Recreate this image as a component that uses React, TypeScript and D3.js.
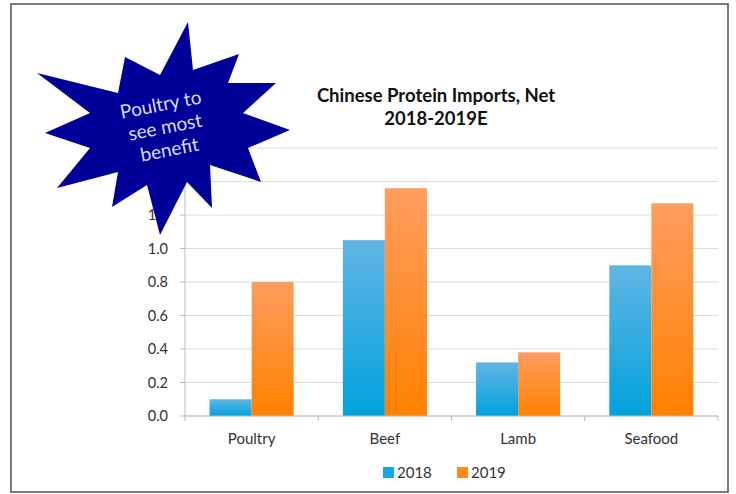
import React from "react";
import * as d3 from "d3";

// Chart data
const categories = ["Poultry", "Beef", "Lamb", "Seafood"];
const seriesNames = ["2018", "2019"];
const values2018 = [0.1, 1.05, 0.32, 0.9];
const values2019 = [0.8, 1.36, 0.38, 1.27];
const yTicks = [0, 0.2, 0.4, 0.6, 0.8, 1.0, 1.2, 1.4, 1.6];
const titleLines = ["Chinese Protein Imports, Net", "2018-2019E"];
const calloutLines = ["Poultry to", "see most", "benefit"];

// Callout burst outline (outer and inner vertices, clockwise from the top)
const burstPoints: [number, number][] = [
  [188, 22], [193, 70], [239, 54], [228, 83], [276, 83], [243, 113],
  [290, 130], [248, 148], [261, 182], [210, 165], [212, 208], [187, 182],
  [160, 235], [147, 185], [112, 207], [118, 172], [57, 188], [90, 148],
  [45, 133], [90, 113], [37, 73], [118, 93], [125, 57], [160, 75],
];

const W = 736;
const H = 494;
const FONT = "Lato, 'Open Sans', 'DejaVu Sans', sans-serif";

export default function App() {
  const plot = { left: 185, right: 718, top: 148, bottom: 416 };

  const y = d3.scaleLinear().domain([0, 1.6]).range([plot.bottom, plot.top]);
  const x = d3
    .scaleBand<string>()
    .domain(categories)
    .range([plot.left, plot.right])
    .padding(0);
  const xs = d3
    .scaleBand<string>()
    .domain(seriesNames)
    .range([0, x.step()])
    .paddingInner(0)
    .paddingOuter(0.585);

  const seriesValues = [values2018, values2019];
  const fills = ["url(#gBlue)", "url(#gOrange)"];
  const legendColors = ["#1aa6de", "#ff8a1c"];

  const boundaries = [...categories.map((c) => x(c)!), plot.right];
  const line = d3.line();

  return (
    <svg
      width={W}
      height={H}
      style={{ position: "absolute", left: 0, top: 0, background: "#fff" }}
      fontFamily={FONT}
    >
      <defs>
        <linearGradient id="gBlue" x1="0" y1="0" x2="0" y2="1">
          <stop offset="0" stopColor="#62b5e5" />
          <stop offset="1" stopColor="#00a2dc" />
        </linearGradient>
        <linearGradient id="gOrange" x1="0" y1="0" x2="0" y2="1">
          <stop offset="0" stopColor="#ff9d60" />
          <stop offset="1" stopColor="#ff8100" />
        </linearGradient>
      </defs>

      {/* outer frame */}
      <rect x={11} y={4} width={717} height={488} fill="#fff" stroke="#5a5a5a" strokeWidth={1.6} />

      {/* gridlines */}
      {yTicks.map((t) => (
        <line
          key={"g" + t}
          x1={plot.left}
          x2={plot.right}
          y1={y(t)}
          y2={y(t)}
          stroke="#dcdcdc"
          strokeWidth={1.2}
        />
      ))}

      {/* y axis */}
      <line x1={plot.left} x2={plot.left} y1={plot.top} y2={plot.bottom} stroke="#bdbdbd" strokeWidth={1} />
      {yTicks.map((t) => (
        <g key={"yt" + t}>
          <line x1={plot.left - 5} x2={plot.left} y1={y(t)} y2={y(t)} stroke="#bdbdbd" />
          <text
            x={168}
            y={y(t)}
            dy="0.35em"
            textAnchor="end"
            fontSize={14.5}
            fill="#333"
          >
            {d3.format(".1f")(t)}
          </text>
        </g>
      ))}

      {/* bars */}
      {categories.map((c, i) => (
        <g key={c} transform={`translate(${x(c)},0)`}>
          {seriesNames.map((s, j) => (
            <rect
              key={s}
              x={xs(s)}
              y={y(seriesValues[j][i])}
              width={xs.bandwidth()}
              height={y(0) - y(seriesValues[j][i])}
              fill={fills[j]}
            />
          ))}
        </g>
      ))}

      {/* x axis */}
      <line x1={plot.left} x2={plot.right} y1={plot.bottom} y2={plot.bottom} stroke="#bdbdbd" />
      {boundaries.map((b, i) => (
        <line key={"xt" + i} x1={b} x2={b} y1={plot.bottom} y2={plot.bottom + 5} stroke="#bdbdbd" />
      ))}
      {categories.map((c) => (
        <text
          key={"xl" + c}
          x={x(c)! + x.bandwidth() / 2}
          y={439}
          dy="0.35em"
          textAnchor="middle"
          fontSize={15}
          fill="#333"
        >
          {c}
        </text>
      ))}

      {/* title */}
      {titleLines.map((t, i) => (
        <text
          key={"t" + i}
          x={436}
          y={102 + i * 23}
          textAnchor="middle"
          fontSize={18.5}
          fontWeight="bold"
          fill="#111"
        >
          {t}
        </text>
      ))}

      {/* legend */}
      {seriesNames.map((s, j) => (
        <g key={"lg" + s} transform={`translate(${383 + j * 74},467)`}>
          <rect x={0} y={0} width={11} height={11} fill={legendColors[j]} />
          <text x={14} y={5.5} dy="0.35em" fontSize={15} fill="#333">
            {s}
          </text>
        </g>
      ))}

      {/* callout burst */}
      <path d={line(burstPoints)! + "Z"} fill="#000099" />
      <g transform="rotate(-11, 165, 127)">
        {calloutLines.map((t, i) => (
          <text
            key={"c" + i}
            x={165}
            y={127 + (i - 1) * 23}
            dy="0.35em"
            textAnchor="middle"
            fontSize={19}
            fill="#dcdcf2"
          >
            {t}
          </text>
        ))}
      </g>
    </svg>
  );
}
